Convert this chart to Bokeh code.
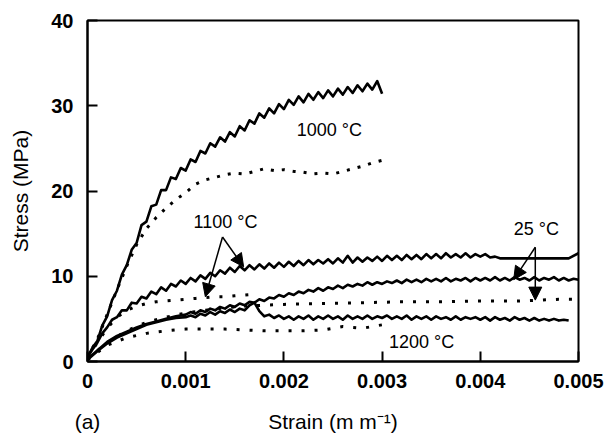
from bokeh.plotting import figure
from bokeh.models import FixedTicker, Label, Arrow, NormalHead, LinearAxis
from bokeh.embed import file_html
from bokeh.resources import INLINE

FONT = "Liberation Sans"

# ---------------- data (strain in m/m, stress in MPa) ----------------
x_1000_solid = [0, 0.00005, 0.0001, 0.00015, 0.0002, 0.00025, 0.0003, 0.00035, 0.0004, 0.00045,
                0.0005, 0.00055, 0.0006, 0.00065, 0.0007, 0.00075, 0.0008, 0.00085, 0.0009, 0.00095,
                0.001, 0.00105, 0.0011, 0.00115, 0.0012, 0.00125, 0.0013, 0.00135, 0.0014, 0.00145,
                0.0015, 0.00155, 0.0016, 0.00165, 0.0017, 0.00175, 0.0018, 0.00185, 0.0019, 0.00195,
                0.002, 0.00205, 0.0021, 0.00215, 0.0022, 0.00225, 0.0023, 0.00235, 0.0024, 0.00245,
                0.0025, 0.00255, 0.0026, 0.00265, 0.0027, 0.00275, 0.0028, 0.00285, 0.0029, 0.00295,
                0.003]
y_1000_solid = [0.5, 1.6, 2.4, 4.2, 5.3, 7.2, 8.3, 10.2, 11.3, 13.1,
                13.9, 16.0, 16.4, 18.2, 18.4, 20.1, 20.1, 21.6, 21.4, 22.7,
                22.4, 23.7, 23.4, 24.7, 24.4, 25.6, 25.2, 26.3, 25.8, 26.9,
                26.4, 27.6, 27.1, 28.3, 27.9, 29.1, 28.6, 29.7, 29.1, 30.2,
                29.6, 30.7, 30.1, 31.1, 30.4, 31.4, 30.7, 31.6, 30.9, 31.8,
                31.1, 32.0, 31.3, 32.2, 31.5, 32.4, 31.7, 32.6, 31.9, 32.9,
                31.4]

x_1000_dot = [0, 0.0001, 0.0002, 0.0003, 0.0004, 0.0005, 0.0006, 0.0007, 0.0008, 0.0009,
              0.001, 0.0011, 0.0012, 0.0013, 0.0014, 0.0015, 0.0016, 0.0017, 0.0018, 0.0019,
              0.002, 0.0021, 0.0022, 0.0023, 0.0024, 0.0025, 0.0026, 0.0027, 0.0028, 0.0029, 0.003]
y_1000_dot = [0.5, 2.6, 5.5, 8.4, 11.2, 13.7, 15.6, 16.9, 18.0, 19.0,
              19.8, 20.8, 21.3, 21.6, 21.9, 22.1, 22.0, 22.3, 22.6, 22.4,
              22.5, 22.3, 22.2, 22.0, 22.1, 22.0, 22.3, 22.6, 22.9, 23.3, 23.6]

x_1100_solid = [0, 0.00005, 0.0001, 0.00015, 0.0002, 0.00025, 0.0003, 0.00035, 0.0004, 0.00045,
                0.0005, 0.00055, 0.0006, 0.00065, 0.0007, 0.00075, 0.0008, 0.00085, 0.0009, 0.00095,
                0.001, 0.00105, 0.0011, 0.00115, 0.0012, 0.00125, 0.0013, 0.00135, 0.0014, 0.00145,
                0.0015, 0.00155, 0.0016, 0.00165, 0.0017, 0.00175, 0.0018, 0.00185, 0.0019, 0.00195,
                0.002, 0.00205, 0.0021, 0.00215, 0.0022, 0.00225, 0.0023, 0.00235, 0.0024, 0.00245,
                0.0025, 0.00255, 0.0026, 0.00265, 0.0027, 0.00275, 0.0028, 0.00285, 0.0029, 0.00295,
                0.003, 0.00305, 0.0031, 0.00315, 0.0032, 0.00325, 0.0033, 0.00335, 0.0034, 0.00345,
                0.0035, 0.00355, 0.0036, 0.00365, 0.0037, 0.00375, 0.0038, 0.00385, 0.0039, 0.00395,
                0.004, 0.00405, 0.0041, 0.00415, 0.0042, 0.0049, 0.005]
y_1100_solid = [0.5, 1.4, 2.2, 3.3, 4.0, 4.9, 5.2, 6.0, 6.0, 6.9,
                6.8, 7.6, 7.4, 8.2, 7.9, 8.7, 8.3, 9.1, 8.8, 9.5,
                9.1, 9.8, 9.4, 10.1, 9.7, 10.4, 10.0, 10.7, 10.3, 11.0,
                10.5, 11.2, 10.7, 11.3, 10.8, 11.4, 10.9, 11.5, 11.0, 11.6,
                11.1, 11.7, 11.2, 11.8, 11.3, 11.9, 11.4, 11.9, 11.5, 12.0,
                11.5, 12.1, 11.6, 12.4, 11.6, 12.2, 11.7, 12.2, 11.8, 12.3,
                11.8, 12.4, 11.9, 12.4, 11.9, 12.5, 12.0, 12.5, 12.0, 12.6,
                12.1, 12.6, 12.1, 12.7, 12.2, 12.6, 12.2, 12.7, 12.2, 12.6,
                12.3, 12.6, 12.2, 12.3, 12.1, 12.1, 12.7]

x_1100_dot = [0, 0.0001, 0.0002, 0.0003, 0.0004, 0.0005, 0.0006, 0.0007, 0.0008, 0.0009,
              0.001, 0.0011, 0.0012, 0.0013, 0.0014, 0.0015, 0.0016, 0.0017]
y_1100_dot = [0.5, 2.2, 3.9, 5.2, 6.0, 6.5, 6.8, 7.0, 7.1, 7.2,
              7.3, 7.4, 7.5, 7.6, 7.6, 7.7, 7.8, 7.9]

x_25_solid = [0, 0.0001, 0.0002, 0.0003, 0.0004, 0.0005, 0.0006, 0.0007, 0.0008, 0.0009,
              0.001, 0.00105, 0.0011, 0.00115, 0.0012, 0.00125, 0.0013, 0.00135, 0.0014, 0.00145,
              0.0015, 0.00155, 0.0016, 0.00165, 0.0017, 0.00175, 0.0018, 0.00185, 0.0019, 0.00195,
              0.002, 0.00205, 0.0021, 0.00215, 0.0022, 0.00225, 0.0023, 0.00235, 0.0024, 0.00245,
              0.0025, 0.00255, 0.0026, 0.00265, 0.0027, 0.00275, 0.0028, 0.00285, 0.0029, 0.00295,
              0.003, 0.00305, 0.0031, 0.00315, 0.0032, 0.00325, 0.0033, 0.00335, 0.0034, 0.00345,
              0.0035, 0.00355, 0.0036, 0.00365, 0.0037, 0.00375, 0.0038, 0.00385, 0.0039, 0.00395,
              0.004, 0.00405, 0.0041, 0.00415, 0.0042, 0.00425, 0.0043, 0.00435, 0.0044, 0.00445,
              0.0045, 0.00455, 0.0046, 0.00465, 0.0047, 0.00475, 0.0048, 0.00485, 0.0049, 0.00495,
              0.005]
y_25_solid = [0.3, 1.3, 2.3, 3.0, 3.5, 4.0, 4.4, 4.7, 5.0, 5.3,
              5.5, 5.8, 5.6, 6.0, 5.8, 6.2, 6.0, 6.4, 6.2, 6.6,
              6.4, 6.8, 6.6, 7.0, 6.9, 7.3, 7.1, 7.5, 7.4, 7.8,
              7.6, 8.0, 7.8, 8.2, 8.0, 8.4, 8.2, 8.6, 8.3, 8.7,
              8.5, 8.9, 8.6, 9.0, 8.8, 9.1, 8.9, 9.3, 9.0, 9.3,
              9.1, 9.4, 9.2, 9.5, 9.2, 9.6, 9.3, 9.6, 9.3, 9.7,
              9.4, 9.7, 9.4, 9.8, 9.4, 9.7, 9.5, 9.8, 9.4, 9.8,
              9.5, 9.8, 9.5, 9.9, 9.5, 9.8, 9.5, 9.9, 9.6, 9.8,
              9.5, 9.9, 9.5, 9.8, 9.6, 9.9, 9.5, 9.8, 9.5, 9.7,
              9.6]

x_25_dot = [0, 0.0002, 0.0004, 0.0006, 0.0008, 0.001, 0.0012, 0.0014, 0.0016, 0.0018,
            0.002, 0.0024, 0.0028, 0.0032, 0.0036, 0.004, 0.0044, 0.0048, 0.005]
y_25_dot = [0.3, 2.2, 3.6, 4.6, 5.2, 5.7, 6.0, 6.3, 6.5, 6.6,
            6.7, 6.8, 6.9, 7.0, 7.0, 7.1, 7.1, 7.3, 7.3]

x_1200_solid = [0, 0.0001, 0.0002, 0.0003, 0.0004, 0.0005, 0.0006, 0.0007, 0.0008, 0.0009,
                0.001, 0.00105, 0.0011, 0.00115, 0.0012, 0.00125, 0.0013, 0.00135, 0.0014, 0.00145,
                0.0015, 0.00155, 0.0016, 0.00165, 0.0017, 0.00175, 0.0018, 0.00185, 0.0019, 0.00195,
                0.002, 0.00205, 0.0021, 0.00215, 0.0022, 0.00225, 0.0023, 0.00235, 0.0024, 0.00245,
                0.0025, 0.00255, 0.0026, 0.00265, 0.0027, 0.00275, 0.0028, 0.00285, 0.0029, 0.00295,
                0.003, 0.00305, 0.0031, 0.00315, 0.0032, 0.00325, 0.0033, 0.00335, 0.0034, 0.00345,
                0.0035, 0.00355, 0.0036, 0.00365, 0.0037, 0.00375, 0.0038, 0.00385, 0.0039, 0.00395,
                0.004, 0.00405, 0.0041, 0.00415, 0.0042, 0.00425, 0.0043, 0.00435, 0.0044, 0.00445,
                0.0045, 0.00455, 0.0046, 0.00465, 0.0047, 0.00475, 0.0048, 0.00485, 0.0049]
y_1200_solid = [0.2, 1.2, 2.1, 2.8, 3.3, 3.8, 4.3, 4.6, 4.9, 5.1,
                5.2, 5.4, 5.2, 5.6, 5.4, 5.8, 5.5, 5.9, 5.7, 6.1,
                5.8, 6.2, 6.0, 6.6, 6.9, 5.9, 5.3, 5.5, 5.1, 5.4,
                5.0, 5.3, 4.9, 5.3, 5.0, 5.4, 4.9, 5.3, 5.0, 5.4,
                5.0, 5.3, 4.9, 5.4, 5.0, 5.3, 5.0, 5.4, 5.0, 5.3,
                5.1, 5.4, 5.0, 5.3, 5.0, 5.4, 4.9, 5.3, 5.0, 5.3,
                4.9, 5.3, 5.0, 5.2, 4.9, 5.3, 4.9, 5.2, 5.0, 5.2,
                4.9, 5.2, 4.8, 5.2, 4.9, 5.1, 4.8, 5.2, 4.9, 5.1,
                4.8, 5.1, 4.8, 5.0, 4.8, 5.0, 4.8, 4.9, 4.8]

x_1200_dot = [0, 0.0002, 0.0004, 0.0006, 0.0008, 0.001, 0.0012, 0.0014, 0.0016, 0.0018,
              0.002, 0.0022, 0.0024, 0.0026, 0.0028, 0.003]
y_1200_dot = [0.2, 1.9, 2.8, 3.3, 3.6, 3.8, 3.8, 3.8, 3.7, 3.6,
              3.6, 3.6, 3.7, 4.1, 3.9, 4.3]

x_ticks = [0, 0.001, 0.002, 0.003, 0.004, 0.005]
x_tick_labels = ["0", "0.001", "0.002", "0.003", "0.004", "0.005"]
y_ticks = [0, 10, 20, 30, 40]
y_tick_labels = ["0", "10", "20", "30", "40"]

# bottom caption row: panel tag under x = 0, axis title under the middle
caption_pos = [0, 0.0025]
caption_text = ["(a)", "Strain (m m\u207b\u00b9)"]
y_title = "Stress (MPa)"

# annotations: (text, x, y)
labels = [("1000 \u00b0C", 0.00213, 27.2),
          ("1100 \u00b0C", 0.00108, 16.4),
          ("25 \u00b0C", 0.00434, 15.5),
          ("1200 \u00b0C", 0.00307, 2.3)]
# arrows: (x_start, y_start, x_end, y_end)
arrows = [(0.001375, 14.6, 0.00159, 11.1),
          (0.001375, 14.6, 0.00120, 7.6),
          (0.00456, 13.4, 0.00434, 9.6),
          (0.00456, 13.4, 0.00456, 7.2)]

# ---------------- figure ----------------
p = figure(width=613, height=435, output_backend="svg", toolbar_location=None,
           x_range=(0, 0.005), y_range=(0, 40),
           min_border_left=87, min_border_right=35, min_border_top=20, min_border_bottom=72)
p.xgrid.visible = False
p.ygrid.visible = False
p.outline_line_color = "black"
p.outline_line_width = 2
p.background_fill_color = "white"
p.border_fill_color = "white"

for ax in (p.xaxis[0], p.yaxis[0]):
    ax.axis_line_width = 2
    ax.axis_line_color = "black"
    ax.major_tick_in = 10
    ax.major_tick_out = 0
    ax.major_tick_line_width = 2
    ax.minor_tick_line_color = None
    ax.major_label_text_font = FONT
    ax.major_label_text_font_size = "20px"
    ax.major_label_text_font_style = "bold"
    ax.major_label_text_color = "black"
    ax.axis_label_text_font = FONT
    ax.axis_label_text_font_size = "21px"
    ax.axis_label_text_font_style = "normal"
    ax.axis_label_text_color = "black"

p.xaxis.ticker = FixedTicker(ticks=x_ticks)
p.xaxis.major_label_overrides = {t: l for t, l in zip(x_ticks, x_tick_labels)}
p.yaxis.ticker = FixedTicker(ticks=y_ticks)
p.yaxis.major_label_overrides = {t: l for t, l in zip(y_ticks, y_tick_labels)}
p.xaxis.major_label_standoff = 12
p.yaxis.major_label_standoff = 14
p.yaxis.axis_label = y_title
p.yaxis.axis_label_standoff = 16

cap_axis = LinearAxis(ticker=FixedTicker(ticks=caption_pos),
                      major_label_overrides={t: l for t, l in zip(caption_pos, caption_text)},
                      axis_line_color=None, major_tick_line_color=None,
                      minor_tick_line_color=None,
                      major_label_text_font=FONT, major_label_text_font_size="21px",
                      major_label_text_font_style="normal", major_label_text_color="black",
                      major_label_standoff=13)
p.add_layout(cap_axis, "below")

solid = [(x_1000_solid, y_1000_solid), (x_1100_solid, y_1100_solid),
         (x_25_solid, y_25_solid), (x_1200_solid, y_1200_solid)]
dotted = [(x_1000_dot, y_1000_dot, "3 8"), (x_1100_dot, y_1100_dot, "3 10"),
          (x_25_dot, y_25_dot, "3 10"), (x_1200_dot, y_1200_dot, "3 10")]

for xs, ys, dash in dotted:
    p.line(xs, ys, line_color="black", line_width=3, line_dash=dash)
for xs, ys in solid:
    p.line(xs, ys, line_color="black", line_width=2.6, line_join="round")

for xs, ys, xe, ye in arrows:
    p.add_layout(Arrow(x_start=xs, y_start=ys, x_end=xe, y_end=ye, line_width=1.5,
                       line_color="black",
                       end=NormalHead(size=13, fill_color="black", line_color="black")))

for txt, lx, ly in labels:
    p.add_layout(Label(x=lx, y=ly, text=txt, text_font=FONT, text_font_size="18px",
                       text_align="left", text_baseline="middle", text_color="black"))

open("out.html", "w").write(file_html(p, INLINE))
